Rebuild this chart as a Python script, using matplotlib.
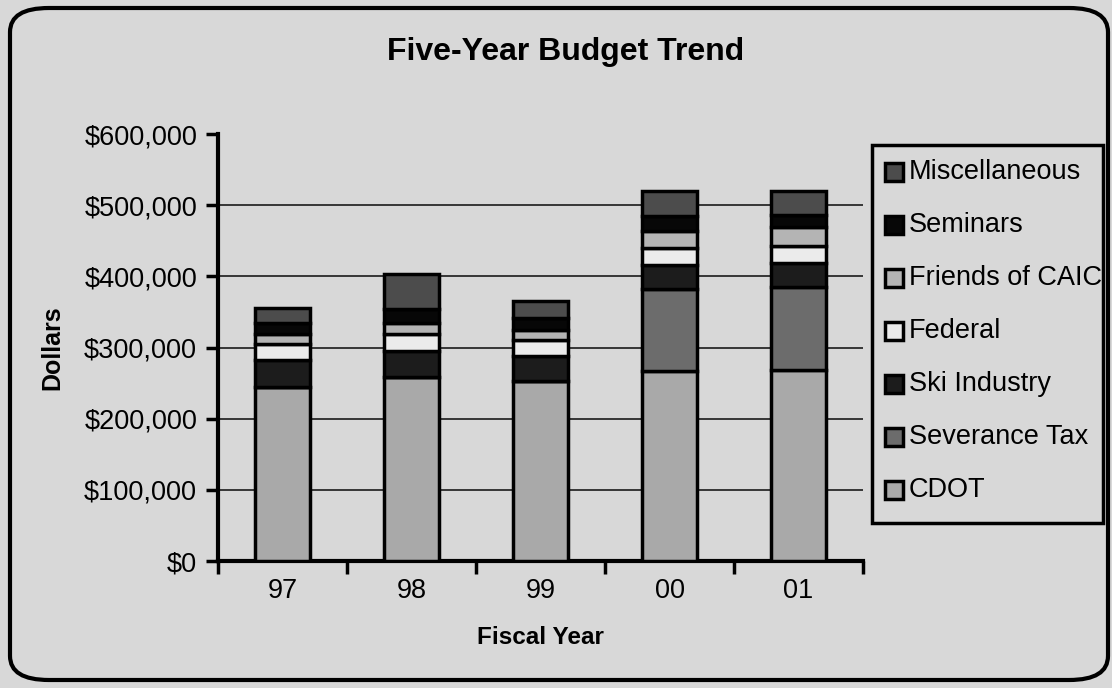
import numpy as np
import matplotlib
matplotlib.use("Agg")
import matplotlib.pyplot as plt
from matplotlib.patches import Rectangle, FancyBboxPatch
from matplotlib.ticker import FuncFormatter, MultipleLocator

plt.rcParams['font.family'] = ['Liberation Sans', 'DejaVu Sans']

years = ["97", "98", "99", "00", "01"]
# stacked from the bottom up, values in dollars
cdot = [244000, 258000, 253000, 267000, 268000]
severance = [0, 0, 0, 115000, 117000]
ski = [39000, 37000, 35000, 34000, 34000]
federal = [22000, 24000, 22000, 24000, 24000]
friends = [14000, 16000, 14000, 24000, 27000]
seminars = [16000, 19000, 18000, 21000, 16000]
misc = [21000, 49000, 24000, 35000, 34000]

series = [
    ("CDOT", cdot, "#a9a9a9"),
    ("Severance Tax", severance, "#6c6c6c"),
    ("Ski Industry", ski, "#1c1c1c"),
    ("Federal", federal, "#ebebeb"),
    ("Friends of CAIC", friends, "#b4b4b4"),
    ("Seminars", seminars, "#070707"),
    ("Miscellaneous", misc, "#4c4c4c"),
]

bg = "#d8d8d8"
W, H = 1112, 688
fig = plt.figure(figsize=(W / 100, H / 100), dpi=100, facecolor=bg)
ax = fig.add_axes([218 / W, 1 - 561 / H, (863 - 218) / W, (561 - 134) / H])
ax.set_facecolor(bg)

x = np.arange(len(years))
bottom = np.zeros(len(years))
for name, vals, col in series:
    vals = np.array(vals, dtype=float)
    ax.bar(x, vals, 0.42, bottom=bottom, color=col, edgecolor="black", linewidth=2.5, zorder=3)
    bottom += vals

ax.set_xlim(-0.5, 4.5)
ax.set_ylim(0, 600000)
ax.yaxis.set_major_locator(MultipleLocator(100000))
ax.yaxis.set_major_formatter(FuncFormatter(lambda v, p: "${:,.0f}".format(v)))
ax.set_xticks(x)
ax.set_xticklabels(years)
ax.set_xticks(np.arange(-0.5, 5, 1), minor=True)
ax.tick_params(axis="x", which="major", length=0, labelsize=19.5, pad=12)
ax.tick_params(axis="x", which="minor", length=9, width=2.5)
ax.tick_params(axis="y", length=9, width=2.5, labelsize=19.5, pad=6)

for y in range(100000, 600000, 100000):
    ax.axhline(y, color="#2a2a2a", linewidth=1.3, zorder=1)

for s in ["top", "right"]:
    ax.spines[s].set_visible(False)
for s in ["left", "bottom"]:
    ax.spines[s].set_linewidth(3)

ax.set_ylabel("Dollars", fontsize=18, fontweight="bold", labelpad=14)
ax.set_xlabel("Fiscal Year", fontsize=17.5, fontweight="bold", labelpad=16)
fig.text(566 / W, 1 - 52 / H, "Five-Year Budget Trend", ha="center", va="center",
         fontsize=23, fontweight="bold")

# legend drawn by hand, top entry = last series
box = Rectangle((872 / W, 1 - 523 / H), (1103 - 872) / W, (523 - 145) / H,
                transform=fig.transFigure, facecolor=bg, edgecolor="black", linewidth=2.5)
fig.patches.append(box)
for i, (name, vals, col) in enumerate(series[::-1]):
    yc = 172 + 53 * i
    sq = Rectangle((885 / W, 1 - (yc + 9) / H), 18 / W, 18 / H,
                   transform=fig.transFigure, facecolor=col, edgecolor="black", linewidth=2.5)
    fig.patches.append(sq)
    fig.text(909 / W, 1 - yc / H, name, ha="left", va="center", fontsize=19.5)

# rounded border around the whole chart
frame = FancyBboxPatch((10 / W, 8 / H), 1098 / W, 672 / H,
                       boxstyle="round,pad=0,rounding_size=0.035",
                       transform=fig.transFigure, facecolor="none",
                       edgecolor="black", linewidth=3)
fig.patches.append(frame)

fig.savefig("out.png", dpi=100, facecolor=bg)
